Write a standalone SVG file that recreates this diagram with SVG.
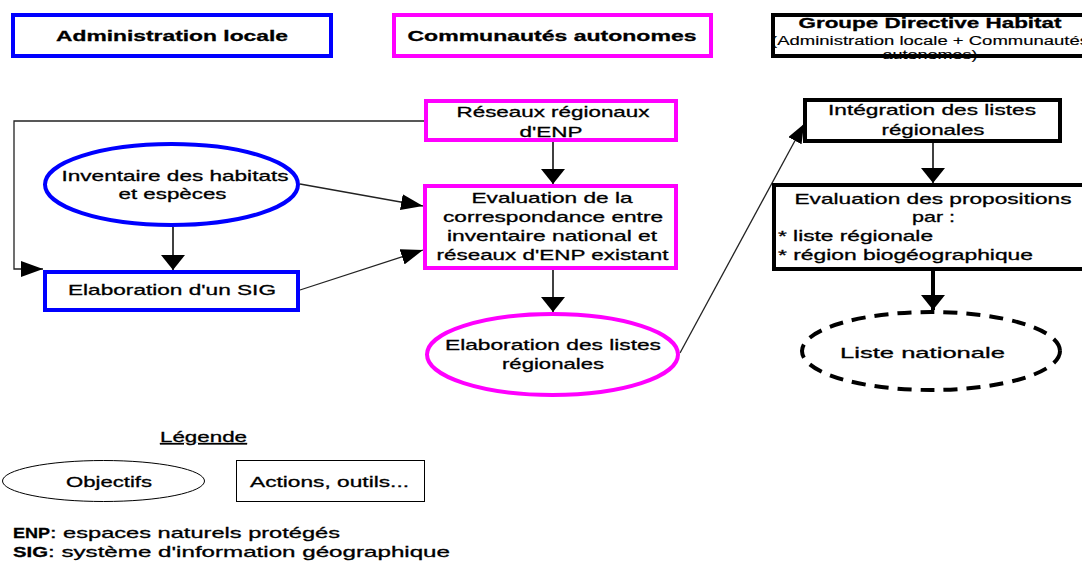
<svg xmlns="http://www.w3.org/2000/svg" width="1082" height="564" viewBox="0 0 1082 564">
<style>
text{font-family:"Liberation Sans",Arial,sans-serif;fill:#000;stroke:#000;stroke-width:0.3}
.t{font-size:15px}
.c{text-anchor:middle}
.b{font-weight:bold}
.hb{font-size:15.5px;font-weight:bold}
.s{font-size:12px;stroke-width:0.15}
.blue{fill:#fff;stroke:#0000ff;stroke-width:4}
.mag{fill:#fff;stroke:#ff00ff;stroke-width:4}
.blk{fill:#fff;stroke:#000;stroke-width:4}
.leg{fill:#fff;stroke:#000;stroke-width:1}
.ln{fill:none;stroke:#222;stroke-width:1.3}
.lv{fill:none;stroke:#000;stroke-width:1.5}
</style>
<defs>
<marker id="av" markerUnits="userSpaceOnUse" markerWidth="15" markerHeight="24" refX="15" refY="12" orient="auto"><path d="M0,0 L15,12 L0,24 z" fill="#000"/></marker>
<marker id="ah" markerUnits="userSpaceOnUse" markerWidth="22" markerHeight="16" refX="22" refY="8" orient="auto"><path d="M0,0 L22,8 L0,16 z" fill="#000"/></marker>
<marker id="ad" markerUnits="userSpaceOnUse" markerWidth="19" markerHeight="15" refX="19" refY="7.5" orient="auto"><path d="M0,0 L19,7.5 L0,15 z" fill="#000"/></marker>
</defs>
<rect width="1082" height="564" fill="#fff"/>

<g id="connectors">
<polyline class="ln" points="424,121 14,121 14,269 43,269" marker-end="url(#ah)"/>
<line class="ln" x1="300" y1="184" x2="423" y2="206" marker-end="url(#ah)"/>
<line class="ln" x1="300" y1="290" x2="423" y2="250" marker-end="url(#ah)"/>
<line class="lv" x1="173" y1="227" x2="173" y2="270" marker-end="url(#av)"/>
<line class="lv" x1="553" y1="142" x2="553" y2="184" marker-end="url(#av)"/>
<line class="lv" x1="553" y1="270" x2="553" y2="312" marker-end="url(#av)"/>
<line class="ln" x1="680" y1="353" x2="804" y2="124" marker-end="url(#ad)"/>
<line class="lv" x1="933" y1="143" x2="933" y2="183" marker-end="url(#av)"/>
<line class="lv" x1="933" y1="270" x2="933" y2="310" style="stroke-width:4" marker-end="url(#av)"/>
</g>

<g id="hdr-admin">
<rect class="blue" x="13" y="15" width="318" height="41"/>
<text class="hb c" x="172" y="41" textLength="232" lengthAdjust="spacingAndGlyphs">Administration locale</text>
</g>
<g id="hdr-ca">
<rect class="mag" x="394" y="15" width="317" height="41"/>
<text class="hb c" x="552" y="41" textLength="289" lengthAdjust="spacingAndGlyphs">Communautés autonomes</text>
</g>
<g id="hdr-gdh">
<rect x="773" y="15" width="330" height="41" fill="#fff"/>
<text class="t b c" x="930" y="28" textLength="263" lengthAdjust="spacingAndGlyphs">Groupe Directive Habitat</text>
<text class="s" x="771" y="44.5" textLength="318" lengthAdjust="spacingAndGlyphs">(Administration locale + Communautés</text>
<text class="s c" x="930" y="59" textLength="95" lengthAdjust="spacingAndGlyphs">autonomes)</text>
<rect x="773" y="15" width="330" height="41" fill="none" stroke="#000" stroke-width="4"/>
</g>

<g id="inventaire">
<ellipse class="blue" cx="171.5" cy="184.5" rx="126.5" ry="40.5"/>
<text class="t c" x="175" y="181" textLength="227" lengthAdjust="spacingAndGlyphs">Inventaire des habitats</text>
<text class="t c" x="172.5" y="199" textLength="108" lengthAdjust="spacingAndGlyphs">et espèces</text>
</g>
<g id="sig">
<rect class="blue" x="45" y="272" width="253" height="38"/>
<text class="t c" x="172" y="295" textLength="208" lengthAdjust="spacingAndGlyphs">Elaboration d'un SIG</text>
</g>
<g id="reseaux">
<rect class="mag" x="426" y="101" width="250" height="39"/>
<text class="t c" x="553" y="117" textLength="193" lengthAdjust="spacingAndGlyphs">Réseaux régionaux</text>
<text class="t c" x="551" y="136.5" textLength="63" lengthAdjust="spacingAndGlyphs">d'ENP</text>
</g>
<g id="evaluation">
<rect class="mag" x="425" y="186" width="251" height="82"/>
<text class="t c" x="552" y="203" textLength="161" lengthAdjust="spacingAndGlyphs">Evaluation de la</text>
<text class="t c" x="553" y="222" textLength="220" lengthAdjust="spacingAndGlyphs">correspondance entre</text>
<text class="t c" x="552" y="241" textLength="210" lengthAdjust="spacingAndGlyphs">inventaire national et</text>
<text class="t c" x="552.5" y="259.5" textLength="232" lengthAdjust="spacingAndGlyphs">réseaux d'ENP existant</text>
</g>
<g id="listes-reg">
<ellipse class="mag" cx="552.5" cy="354.5" rx="125.5" ry="40.5"/>
<text class="t c" x="553" y="350" textLength="216" lengthAdjust="spacingAndGlyphs">Elaboration des listes</text>
<text class="t c" x="553" y="368.5" textLength="102" lengthAdjust="spacingAndGlyphs">régionales</text>
</g>
<g id="integration">
<rect class="blk" x="805" y="100" width="255" height="41"/>
<text class="t c" x="932" y="115" textLength="208" lengthAdjust="spacingAndGlyphs">Intégration des listes</text>
<text class="t c" x="933" y="135" textLength="103" lengthAdjust="spacingAndGlyphs">régionales</text>
</g>
<g id="eval-prop">
<rect class="blk" x="774" y="185" width="320" height="84"/>
<text class="t c" x="933" y="204" textLength="277" lengthAdjust="spacingAndGlyphs">Evaluation des propositions</text>
<text class="t" x="912" y="222" textLength="43" lengthAdjust="spacingAndGlyphs">par :</text>
<text class="t" x="778" y="241" textLength="155" lengthAdjust="spacingAndGlyphs">* liste régionale</text>
<text class="t" x="778" y="260" textLength="255" lengthAdjust="spacingAndGlyphs">* région biogéographique</text>
</g>
<g id="liste-nat">
<ellipse cx="931" cy="351" rx="129" ry="39" fill="#fff" stroke="#000" stroke-width="4" stroke-dasharray="14 9"/>
<text class="t c" x="922.5" y="358" textLength="165" lengthAdjust="spacingAndGlyphs">Liste nationale</text>
</g>

<g id="legende">
<text class="t" x="160" y="442" textLength="87" lengthAdjust="spacingAndGlyphs" text-decoration="underline">Légende</text>
<ellipse class="leg" cx="103.5" cy="481" rx="101" ry="20.5"/>
<text class="t" x="66" y="487" textLength="86" lengthAdjust="spacingAndGlyphs">Objectifs</text>
<rect class="leg" x="236.5" y="460.5" width="188" height="41"/>
<text class="t" x="250" y="487" textLength="159" lengthAdjust="spacingAndGlyphs">Actions, outils...</text>
<text class="t b" x="13" y="538" textLength="37" lengthAdjust="spacingAndGlyphs">ENP</text>
<text class="t" x="50" y="538" textLength="290" lengthAdjust="spacingAndGlyphs">: espaces naturels protégés</text>
<text class="t b" x="13" y="557" textLength="35" lengthAdjust="spacingAndGlyphs">SIG</text>
<text class="t" x="48" y="557" textLength="402" lengthAdjust="spacingAndGlyphs">: système d'information géographique</text>
</g>
</svg>
